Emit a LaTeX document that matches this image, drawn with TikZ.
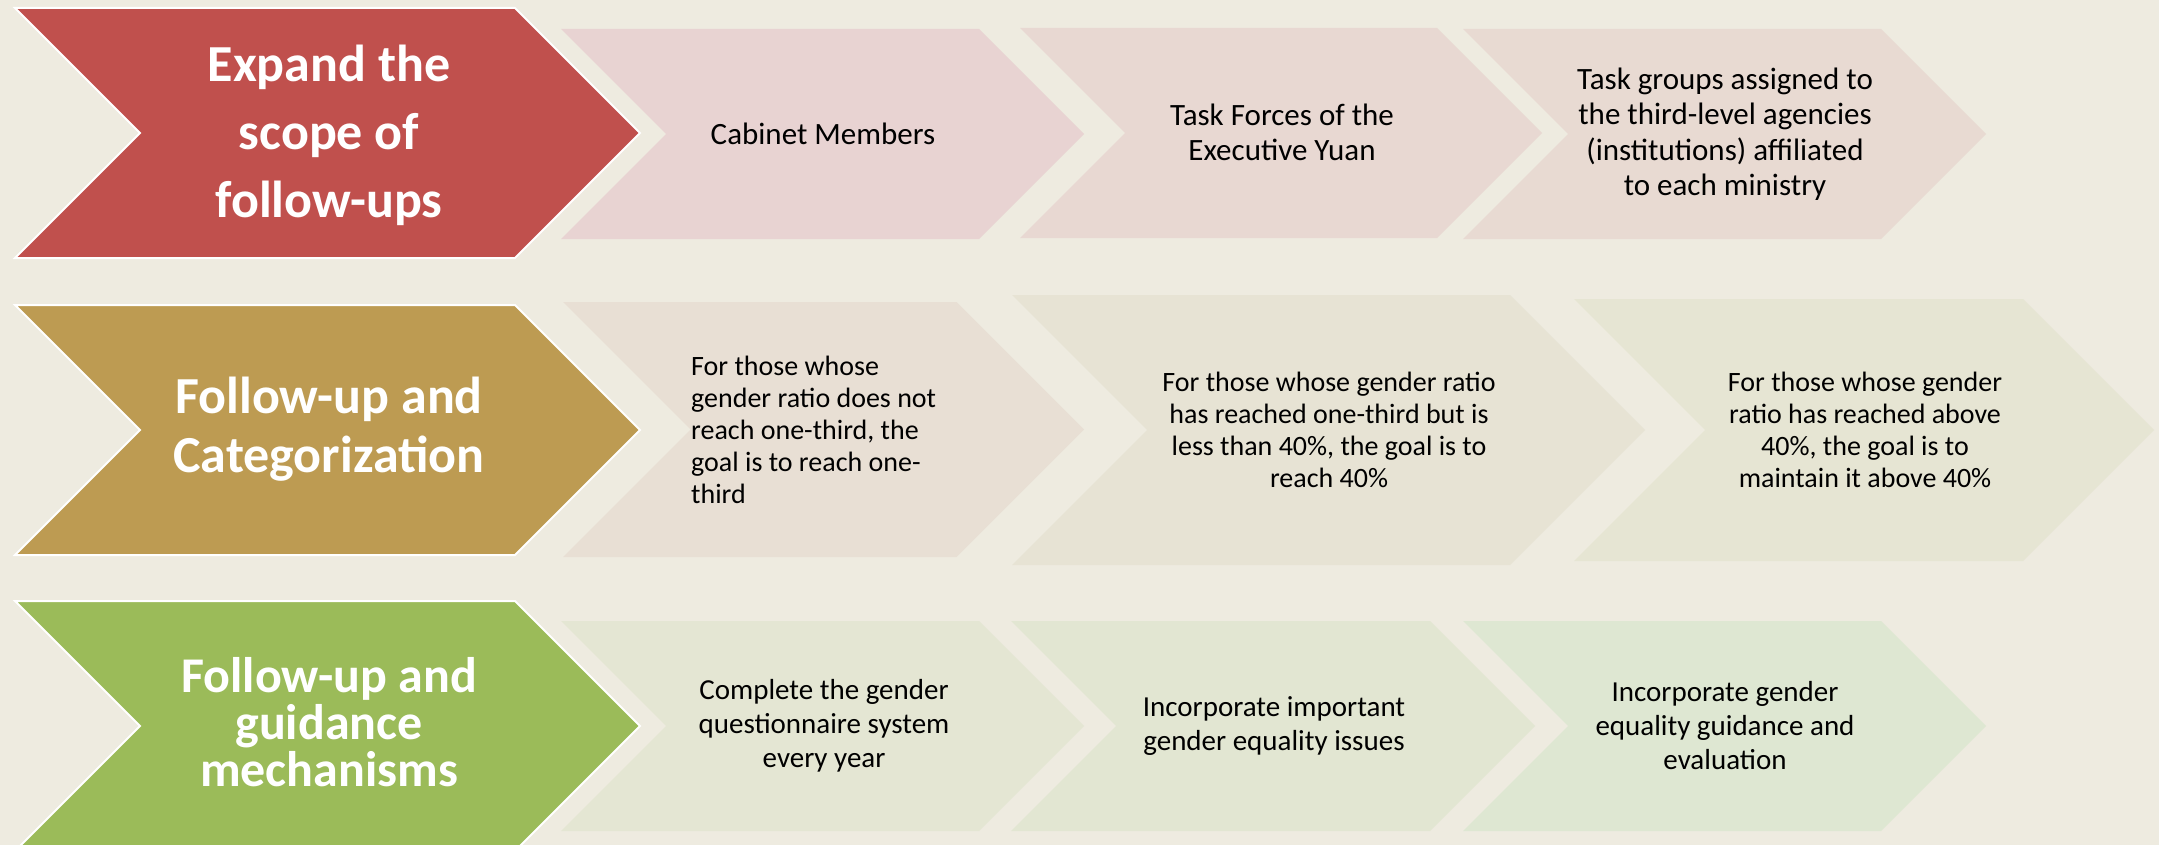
\documentclass[tikz,border=0pt]{standalone}
\usepackage{fontspec}
\setmainfont{Carlito}

\definecolor{bgcream}{HTML}{EEEBE0}
\definecolor{headred}{HTML}{C0504D}
\definecolor{headgold}{HTML}{BD9B52}
\definecolor{headgreen}{HTML}{9BBB59}
\definecolor{stepa1}{HTML}{E8D3D2}
\definecolor{stepa2}{HTML}{E8D8D2}
\definecolor{stepa3}{HTML}{E8DAD2}
\definecolor{stepb1}{HTML}{E8DFD4}
\definecolor{stepb2}{HTML}{E7E3D4}
\definecolor{stepb3}{HTML}{E6E5D3}
\definecolor{stepc1}{HTML}{E4E6D3}
\definecolor{stepc2}{HTML}{E2E6D2}
\definecolor{stepc3}{HTML}{DEE7D2}

\begin{document}
\begin{tikzpicture}[x=1pt,y=-1pt,
    bigtxt/.style={text=white,inner sep=0pt,align=center},
    smalltxt/.style={text=black,inner sep=0pt,align=center}]
  \clip (0,0) rectangle (2159,845);
  \fill[bgcream] (0,0) rectangle (2159,845);

  % head chevrons
  \foreach \xl/\xr/\yt/\yb/\fc in {15/640/8/258/headred,
      15/640/305/555/headgold, 15/640/601/851/headgreen} {
    \pgfmathsetmacro\dd{(\yb-\yt)/2}
    \pgfmathsetmacro\ym{(\yb+\yt)/2}
    \filldraw[fill=\fc,draw=white,line width=2pt]
      (\xl,\yt) -- (\xr-\dd,\yt) -- (\xr,\ym) -- (\xr-\dd,\yb)
      -- (\xl,\yb) -- (\xl+\dd,\ym) -- cycle;
  }

  % step chevrons
  \foreach \xl/\xr/\yt/\yb/\fc in {561/1084/29/239/stepa1,
      1020/1542/28/238/stepa2, 1463/1986/29/239/stepa3,
      563/1084/302/557/stepb1, 1012/1645/295/565/stepb2,
      1574/2154/299/561/stepb3, 561/1084/621/831/stepc1,
      1011/1535/621/831/stepc2, 1463/1986/621/831/stepc3} {
    \pgfmathsetmacro\dd{(\yb-\yt)/2}
    \pgfmathsetmacro\ym{(\yb+\yt)/2}
    \fill[\fc]
      (\xl,\yt) -- (\xr-\dd,\yt) -- (\xr,\ym) -- (\xr-\dd,\yb)
      -- (\xl,\yb) -- (\xl+\dd,\ym) -- cycle;
  }

  % row 1
  \node[bigtxt,font=\bfseries\fontsize{52}{68}\selectfont] (expand) at (329,135)
    {Expand the\\scope of\\follow-ups};
  \node[smalltxt,font=\fontsize{31}{35}\selectfont] (cabinet) at (823,134)
    {Cabinet Members};
  \node[smalltxt,font=\fontsize{31}{35}\selectfont] (taskforce) at (1282,132)
    {Task Forces of the\\Executive Yuan};
  \node[smalltxt,font=\fontsize{31}{35.5}\selectfont] (taskgroup) at (1725,134)
    {Task groups assigned to\\the third-level agencies\\(institutions) affiliated\\to each ministry};

  % row 2
  \node[bigtxt,font=\bfseries\fontsize{52}{59}\selectfont] (categorize) at (329,429)
    {Follow-up and\\Categorization};
  \node[smalltxt,font=\fontsize{28}{32}\selectfont,align=left,anchor=west] (belowthird) at (691,430)
    {For those whose\\gender ratio does not\\reach one-third, the\\goal is to reach one-\\third};
  \node[smalltxt,font=\fontsize{28}{32}\selectfont] (reachforty) at (1329,430)
    {For those whose gender ratio\\has reached one-third but is\\less than 40\%, the goal is to\\reach 40\%};
  \node[smalltxt,font=\fontsize{28}{32}\selectfont] (keepforty) at (1865,430)
    {For those whose gender\\ratio has reached above\\40\%, the goal is to\\maintain it above 40\%};

  % row 3
  \node[bigtxt,font=\bfseries\fontsize{50}{47}\selectfont] (guidance) at (329,722)
    {Follow-up and\\guidance\\mechanisms};
  \node[smalltxt,font=\fontsize{29}{34}\selectfont] (questionnaire) at (824,726)
    {Complete the gender\\questionnaire system\\every year};
  \node[smalltxt,font=\fontsize{29}{34}\selectfont] (issues) at (1274,726)
    {Incorporate important\\gender equality issues};
  \node[smalltxt,font=\fontsize{29}{34}\selectfont] (evaluation) at (1725,726)
    {Incorporate gender\\equality guidance and\\evaluation};
\end{tikzpicture}
\end{document}
